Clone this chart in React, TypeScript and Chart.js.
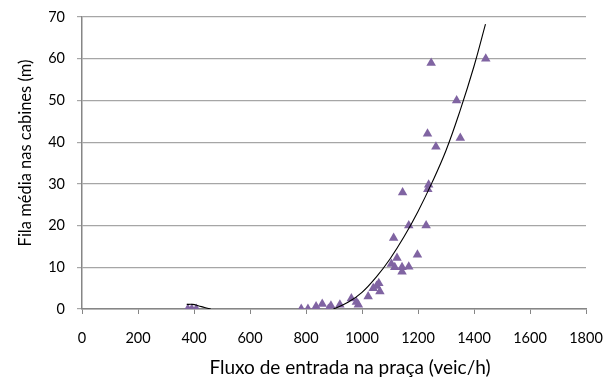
import React, { useEffect, useRef } from "react";
import { Chart, registerables } from "chart.js";

Chart.register(...registerables);

const obsX = [378, 392, 408, 783, 807, 836, 858, 880, 889, 921, 962, 980, 987, 1022, 1040, 1052, 1060, 1064, 1105, 1113, 1117, 1125, 1143, 1143, 1145, 1167, 1167, 1198, 1229, 1234, 1235, 1238, 1247, 1264, 1338, 1351, 1442];
const obsY = [0, 0, 0, 0, 0, 0.6, 1.2, 0, 0.8, 1, 2.5, 1.7, 1, 3, 5, 5.5, 6.2, 4.2, 10.8, 17, 10, 12.2, 10, 8.9, 27.9, 20, 10.1, 13, 20, 42, 28.7, 29.8, 59, 38.9, 50, 41, 60];

const trendLowX = [374, 395, 415, 438, 460];
const trendLowY = [1.1, 1.1, 0.8, 0.35, 0];
const trendHighX = [898, 950, 1000, 1050, 1100, 1150, 1200, 1250, 1300, 1350, 1400, 1441];
const trendHighY = [0, 1.6, 4.0, 7.6, 12.0, 17.3, 23.4, 30.3, 38.0, 47.5, 58.2, 68.3];

const xTicks = [0, 200, 400, 600, 800, 1000, 1200, 1400, 1600, 1800];
const yTicks = [0, 10, 20, 30, 40, 50, 60, 70];

const xTitle = "Fluxo de entrada na praça (veic/h)";
const yTitle = "Fila média nas cabines (m)";

const FONT = "Lato, 'Open Sans', sans-serif";

const axisTitles = {
  id: "axisTitles",
  afterDraw(chart: any) {
    const { ctx, chartArea } = chart;
    ctx.save();
    ctx.fillStyle = "#000000";
    ctx.textAlign = "center";
    ctx.textBaseline = "middle";
    ctx.font = `19px ${FONT}`;
    ctx.fillText(xTitle, (chartArea.left + chartArea.right) / 2 + 16, chart.height - 10);
    ctx.translate(26, (chartArea.top + chartArea.bottom) / 2 - 10);
    ctx.rotate(-Math.PI / 2);
    ctx.font = `16.5px ${FONT}`;
    ctx.fillText(yTitle, 0, 0);
    ctx.restore();
  },
};

export default function App() {
  const ref = useRef<HTMLCanvasElement | null>(null);
  useEffect(() => {
    if (!ref.current) return;
    const pts = (xs: number[], ys: number[]) => xs.map((x, i) => ({ x, y: ys[i] }));
    const chart = new Chart(ref.current, {
      type: "scatter",
      plugins: [axisTitles],
      data: {
        datasets: [
          {
            type: "line",
            data: pts(trendLowX, trendLowY),
            borderColor: "#000000",
            borderWidth: 1.1,
            pointRadius: 0,
            fill: false,
            tension: 0.4,
            order: 0,
          } as any,
          {
            type: "line",
            data: pts(trendHighX, trendHighY),
            borderColor: "#000000",
            borderWidth: 1.1,
            pointRadius: 0,
            fill: false,
            tension: 0.4,
            order: 0,
          } as any,
          {
            data: pts(obsX, obsY),
            pointStyle: "triangle",
            pointRadius: 5.5,
            backgroundColor: "#8064A2",
            borderColor: "#8064A2",
            borderWidth: 0,
            order: 1,
          },
        ],
      },
      options: {
        animation: false,
        responsive: false,
        events: [],
        layout: { padding: { left: 0, right: 21, top: 17, bottom: 0 } },
        plugins: { legend: { display: false }, tooltip: { enabled: false } },
        scales: {
          x: {
            type: "linear",
            min: 0,
            max: 1800,
            afterBuildTicks: (s: any) => {
              s.ticks = xTicks.map((v) => ({ value: v }));
            },
            afterFit: (s: any) => {
              s.height = 69;
              s.paddingRight = 0;
              s.paddingLeft = 0;
            },
            ticks: {
              color: "#000000",
              font: { family: FONT, size: 14.5 },
              padding: 16,
              maxRotation: 0,
              autoSkip: false,
              callback: (v: any) => String(v),
            },
            grid: {
              drawOnChartArea: false,
              drawTicks: true,
              tickLength: 5,
              color: "#868686",
            },
            border: { color: "#868686", width: 1.5 },
            title: { display: false },
          },
          y: {
            type: "linear",
            min: 0,
            max: 70,
            afterBuildTicks: (s: any) => {
              s.ticks = yTicks.map((v) => ({ value: v }));
            },
            afterFit: (s: any) => {
              s.width = 82;
              s.paddingTop = 0;
              s.paddingBottom = 0;
            },
            ticks: {
              color: "#000000",
              font: { family: FONT, size: 14.5 },
              padding: 12,
              callback: (v: any) => String(v),
            },
            grid: {
              drawOnChartArea: true,
              drawTicks: true,
              tickLength: 5,
              color: "#A6A6A6",
              lineWidth: 1.2,
            },
            border: { color: "#868686", width: 1.5 },
            title: { display: false },
          },
        },
      },
    });
    return () => chart.destroy();
  }, []);
  return (
    <div style={{ position: "fixed", left: 0, top: 0, width: 607, height: 378, background: "#ffffff" }}>
      <canvas ref={ref} width={607} height={378} style={{ width: 607, height: 378 }} />
    </div>
  );
}
